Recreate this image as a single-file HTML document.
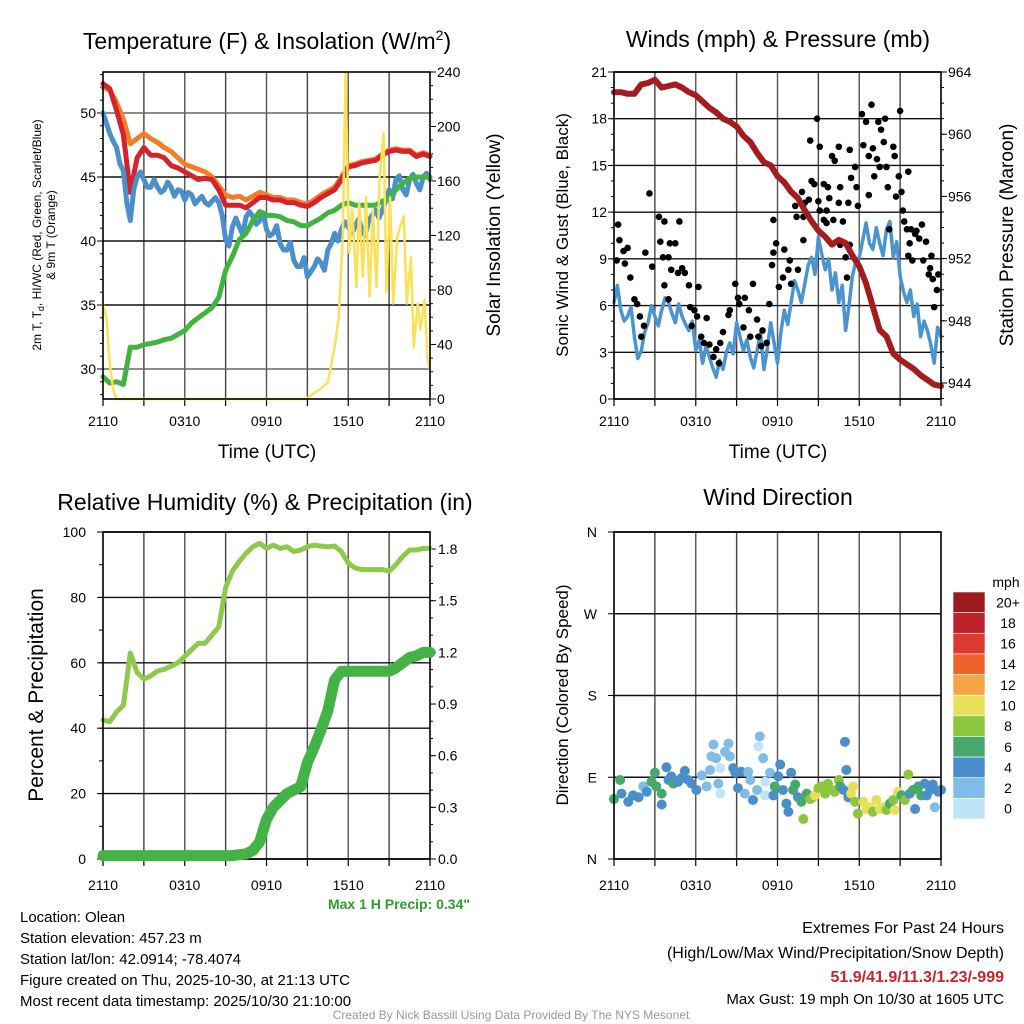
<!DOCTYPE html>
<html><head><meta charset="utf-8">
<style>
html,body{margin:0;padding:0;background:#fff;}
svg{display:block;font-family:"Liberation Sans",Arial,sans-serif;}
</style></head>
<body>
<svg id="chart" width="1024" height="1024" viewBox="0 0 1024 1024" xmlns="http://www.w3.org/2000/svg">
<rect width="1024" height="1024" fill="#fff"/>

<text x="267" y="49" font-size="23" text-anchor="middle">Temperature (F) &amp; Insolation (W/m<tspan dy="-9" font-size="14">2</tspan><tspan dy="9">)</tspan></text>
<text x="778" y="47" font-size="23" text-anchor="middle">Winds (mph) &amp; Pressure (mb)</text>
<text x="265" y="510" font-size="23" text-anchor="middle">Relative Humidity (%) &amp; Precipitation (in)</text>
<text x="778" y="505" font-size="23" text-anchor="middle">Wind Direction</text>

<text transform="translate(41,235) rotate(-90)" font-size="12" text-anchor="middle">2m T, T<tspan dy="3" font-size="9">d</tspan><tspan dy="-3">, HI/WC (Red, Green, Scarlet/Blue)</tspan></text>
<text transform="translate(55,235) rotate(-90)" font-size="12" text-anchor="middle">&amp; 9m T (Orange)</text>
<text transform="translate(500,235) rotate(-90)" font-size="19" text-anchor="middle">Solar Insolation (Yellow)</text>
<text x="267" y="458" font-size="19" text-anchor="middle">Time (UTC)</text>
<text transform="translate(568,235) rotate(-90)" font-size="17" text-anchor="middle">Sonic Wind &amp; Gust (Blue, Black)</text>
<text transform="translate(1013,235) rotate(-90)" font-size="19" text-anchor="middle">Station Pressure (Maroon)</text>
<text x="778" y="458" font-size="19" text-anchor="middle">Time (UTC)</text>
<text transform="translate(43,695) rotate(-90)" font-size="21" text-anchor="middle">Percent &amp; Precipitation</text>
<text transform="translate(568,695) rotate(-90)" font-size="17" text-anchor="middle">Direction (Colored By Speed)</text>

<g id="layer"></g>

<text x="1006" y="587" font-size="14" text-anchor="middle">mph</text>

<text x="470" y="909" font-size="14" font-weight="bold" fill="#2ca02c" text-anchor="end">Max 1 H Precip: 0.34"</text>
<g font-size="15">
<text x="20" y="922">Location: Olean</text>
<text x="20" y="943">Station elevation: 457.23 m</text>
<text x="20" y="964">Station lat/lon: 42.0914; -78.4074</text>
<text x="20" y="985">Figure created on Thu, 2025-10-30, at 21:13 UTC</text>
<text x="20" y="1006">Most recent data timestamp: 2025/10/30 21:10:00</text>
</g>
<g text-anchor="end">
<text x="1004" y="933" font-size="16">Extremes For Past 24 Hours</text>
<text x="1004" y="958" font-size="16">(High/Low/Max Wind/Precipitation/Snow Depth)</text>
<text x="1004" y="982" font-size="16" font-weight="bold" fill="#cc2229">51.9/41.9/11.3/1.23/-999</text>
<text x="1004" y="1004" font-size="15">Max Gust: 19 mph On 10/30 at 1605 UTC</text>
</g>
<text x="511" y="1019" font-size="12" fill="#999" text-anchor="middle">Created By Nick Bassill Using Data Provided By The NYS Mesonet</text>
</svg>

<script>
// ---------- DATA ----------
const hours = [0,0.5,1,1.5,2,2.5,3,3.5,4,4.5,5,5.5,6,6.5,7,7.5,8,8.5,9,9.5,10,10.5,11,11.5,12,12.5,13,13.5,14,14.5,15,15.5,16,16.5,17,17.5,18,18.5,19,19.5,20,20.5,21,21.5,22,22.5,23,23.5,24];
const xTickLabels = ['2110','0310','0910','1510','2110'];
const tempTicks = [30,35,40,45,50];
const solarTicks = [0,40,80,120,160,200,240];
const windTicks = [0,3,6,9,12,15,18,21];
const presTicks = [944,948,952,956,960,964];
const rhTicks = [0,20,40,60,80,100];
const precipTicks = [0.0,0.3,0.6,0.9,1.2,1.5,1.8];
const dirTicks = [0,90,180,270,360];
const dirLabels = ['N','E','S','W','N'];

const tempRed = [52.3,51.9,50.2,48.3,43.8,46.5,47.3,46.7,46.7,46.5,45.9,45.7,45.4,45.1,44.8,44.9,44.8,44.0,42.8,42.8,42.8,42.6,43.0,43.4,43.4,43.2,43.2,43.0,43.0,42.8,42.7,43.0,43.4,43.7,44.0,44.8,45.8,45.9,46.1,46.2,46.3,46.7,47.0,47.1,47.0,47.0,46.6,46.8,46.6];
const temp9m = [52.0,51.8,50.8,49.5,47.6,48.0,48.4,48.0,47.7,47.3,47.0,46.5,46.0,45.8,45.6,45.4,45.0,44.3,43.6,43.4,43.5,43.2,43.5,43.8,43.6,43.4,43.4,43.2,43.2,43.0,42.9,43.2,43.6,43.9,44.2,45.0,45.9,46.0,46.2,46.3,46.4,46.8,47.1,47.2,47.1,47.1,46.7,46.9,46.7];
const windChill = [50.0,48.4,47.3,45.5,41.6,45.0,44.8,44.2,44.2,44.0,44.2,44.0,43.2,43.6,43.2,43.0,43.1,43.0,40.1,41.1,41.1,41.9,41.9,41.6,40.9,40.6,39.8,39.3,38.5,38.0,37.2,38.0,38.3,39.3,40.6,40.9,41.1,41.1,40.9,41.6,42.4,42.4,44.0,44.8,44.0,44.8,44.5,45.0,44.8];
const windChillMid = [49.2,47.8,46.0,43.0,44.0,45.4,44.2,44.8,43.8,44.6,43.5,43.9,43.8,42.9,43.5,42.8,43.4,42.0,39.6,41.8,40.5,42.3,41.3,42.2,40.4,41.2,39.3,39.9,38.0,38.7,37.6,38.6,37.7,39.8,40.0,41.5,40.6,41.7,40.4,42.0,41.8,43.1,43.3,45.1,43.6,45.2,44.0,45.3];
const dewpoint = [29.4,28.9,29.0,28.8,31.7,31.7,31.9,32.0,32.1,32.3,32.4,32.7,33.0,33.6,34.0,34.4,34.8,35.6,37.7,38.8,40.1,40.6,41.6,42.3,42.0,42.0,41.9,41.6,41.5,41.2,41.2,41.5,41.8,42.2,42.4,42.8,43.0,42.8,42.8,42.8,42.8,43.1,43.4,44.0,44.5,44.9,45.0,45.0,45.0];
const solarHours = [0,0.25,0.5,0.75,1,14.9,15.3,15.9,16.5,17.0,17.3,17.6,17.8,18.07,18.3,18.6,18.8,19.07,19.3,19.56,19.8,20.07,20.3,20.6,20.8,21.07,21.3,21.6,21.8,22.07,22.3,22.6,22.8,23.1,23.3,23.6,23.8,24];
const solar = [69,60,26,7,0,0,3,7,12,38,60,119,240,107,139,82,144,90,148,75,139,82,163,195,78,148,70,119,126,134,70,104,38,70,51,73,31,21];

const sonicWind = [6.2,5.7,5.3,4.0,3.1,4.9,5.3,5.7,6.2,4.9,5.3,4.4,3.1,2.3,2.7,1.4,1.9,3.6,4.9,3.1,2.7,3.1,1.9,4.9,2.3,5.7,6.2,7.0,7.4,9.1,10.4,8.3,7.0,6.2,4.4,7.9,9.1,11.3,9.6,10.0,10.9,9.1,7.9,6.2,5.3,4.0,4.4,2.3,4.0];
const sonicWindMid = [7.3,5.0,5.9,2.6,4.3,6.0,4.7,6.5,5.5,6.1,4.8,5.0,3.8,3.4,2.0,2.5,3.0,2.9,4.0,3.8,2.0,4.2,3.2,3.6,4.3,4.8,7.6,6.2,8.6,8.0,9.3,9.0,8.1,7.3,6.0,8.8,10.2,10.0,11.0,9.2,11.4,10.1,6.9,7.0,6.1,5.0,3.5,4.6];
const pressure = [962.7,962.7,962.6,962.6,963.2,963.3,963.5,963.0,963.1,963.2,963.0,962.7,962.5,962.1,961.7,961.4,961.0,960.8,960.5,959.9,959.5,958.8,958.2,958.0,957.3,956.9,956.3,955.9,955.1,954.4,953.8,953.4,952.9,953.2,953.0,952.2,951.5,950.4,948.9,947.4,947.0,945.9,945.5,945.2,944.9,944.5,944.2,943.9,943.8];
const gustHours = [0.2,0.3,0.4,0.7,0.8,1.0,1.2,1.5,1.7,1.9,2.2,2.0,2.6,2.3,2.8,3.3,3.4,3.6,3.7,4.0,4.1,4.5,4.8,4.7,4.2,5.0,5.2,5.5,3.7,4.0,5.6,5.9,6.2,6.1,5.7,6.4,6.8,6.6,7.0,7.3,7.5,7.8,7.7,8.0,8.4,8.5,8.9,9.1,9.2,9.6,9.9,9.5,10.0,10.2,10.5,10.6,10.9,10.8,11.2,11.4,11.7,11.6,11.7,11.9,12.1,12.4,12.5,12.8,12.9,13.0,13.3,13.4,13.5,13.8,13.9,14.3,14.4,14.5,14.7,14.9,15.1,15.4,15.6,15.7,15.8,16.0,16.1,16.2,16.5,16.5,16.6,16.8,17.2,17.3,17.4,17.7,17.8,17.9,18.2,18.3,18.5,18.7,18.7,18.9,19.0,19.1,19.3,19.4,19.6,19.5,19.8,19.9,20.0,20.1,20.2,20.5,20.6,20.7,20.9,21.0,21.1,21.2,21.3,21.5,21.6,21.6,21.8,21.9,22.1,22.2,22.4,22.6,22.7,22.9,23.1,23.3,23.4,23.2,23.5,23.8,23.7,21.7,17.3,17.0,16.6,17.1,15.6,15.4,15.1,15.0,14.0,13.9];
const gusts = [8.9,11.2,10.2,9.5,8.7,9.7,7.8,6.4,6.1,5.3,4.7,4.0,13.2,9.4,8.5,11.7,10.1,9.1,11.4,9.1,10.0,10.0,11.4,8.1,8.3,8.4,8.1,7.3,7.3,6.4,5.9,5.7,7.2,5.3,4.7,4.0,5.2,3.6,3.5,2.7,3.2,3.6,2.3,4.3,5.4,5.7,7.4,6.5,6.1,6.5,5.7,4.6,4.0,7.4,5.1,4.0,4.4,3.4,3.6,6.1,11.5,8.6,9.4,10.0,7.2,7.8,9.6,8.3,8.9,7.4,12.4,11.7,8.3,13.3,11.7,12.8,16.6,14.0,13.8,18.0,16.2,13.8,12.1,13.6,12.9,15.6,11.5,15.3,16.2,12.6,13.6,11.4,12.6,16.0,14.2,14.9,13.6,12.4,18.3,16.3,17.8,15.6,13.1,18.9,16.1,14.3,15.4,17.8,17.3,14.9,16.5,18.0,14.9,13.6,10.9,16.2,15.6,13.0,14.3,18.5,13.3,12.1,11.4,10.9,14.6,9.2,10.9,8.9,10.6,10.8,10.3,11.2,8.9,10.1,8.0,9.2,7.7,8.4,5.9,8.0,7.0,10.0,9.9,9.1,9.9,7.8,11.3,11.5,12.1,12.7,12.6,10.2];

const relHum = [42.5,42,45,47,63,57,55,56,57.5,58,59,60,62,64,66,66,68.5,71,83,88,91,93.5,95.5,96.5,95,96,95,95.5,94,94.5,95.5,96,95.7,95.5,95.7,94,90.5,89,88.5,88.5,88.5,88.5,88,90,92.5,94.5,94.5,95,95];
const precip = [0.02,0.02,0.02,0.02,0.02,0.02,0.02,0.02,0.02,0.02,0.02,0.02,0.02,0.02,0.02,0.02,0.02,0.02,0.02,0.02,0.025,0.03,0.05,0.10,0.23,0.30,0.34,0.38,0.40,0.42,0.56,0.65,0.75,0.86,1.04,1.09,1.09,1.09,1.09,1.09,1.09,1.09,1.09,1.11,1.14,1.17,1.18,1.20,1.20];

const dirHours = [0,0.45,0.55,1.05,1.4,1.8,2.15,2.4,2.75,3.0,3.1,3.5,3.5,3.85,4.0,4.2,4.35,4.7,4.95,5.2,5.45,5.7,6.05,6.45,6.8,7.05,7.15,7.3,7.5,7.8,7.65,7.8,8.15,8.4,8.5,8.75,8.9,9.1,9.35,9.6,9.85,10.0,10.2,10.5,10.7,10.6,10.95,11.1,11.1,11.45,11.7,11.8,12.05,12.2,12.4,12.65,12.8,13.0,13.15,13.3,13.5,13.75,13.9,14.15,14.4,14.6,14.75,15.0,15.25,15.5,15.7,16.0,16.2,16.5,16.6,16.85,16.95,17.05,17.2,17.4,17.55,17.7,17.9,18.3,18.55,18.8,19.0,19.25,19.5,19.75,20.0,20.25,20.5,20.6,20.85,21.1,21.35,21.6,21.7,21.95,22.1,22.35,22.55,22.8,22.95,23.2,23.4,23.55,23.8,24.0];
const directions = [66,87,72,63,70,68,80,74,85,95,80,72,60,101,87,91,83,85,89,97,87,83,76,92,80,98,113,126,111,100,83,72,118,127,113,100,95,78,96,72,96,87,65,76,135,124,111,70,85,95,70,80,91,104,76,61,52,95,76,82,68,63,44,72,66,68,70,78,80,72,83,76,74,87,80,76,129,98,68,72,80,63,50,63,55,57,52,65,55,57,54,61,65,54,74,70,65,93,72,76,55,80,70,83,70,76,82,57,74,76];
const dirSpeeds = [7,7,5,5,5,5,3,5,7,7,7,7,5,5,5,5,7,5,5,5,5,5,5,3,3,3,3,3,3,1,3,1,3,3,3,5,5,5,5,3,3,3,5,3,3,1,3,1,1,3,5,7,5,5,5,5,5,5,7,7,5,7,9,7,9,9,11,9,9,9,9,9,9,9,7,5,5,5,5,11,11,9,9,11,11,11,9,11,11,11,9,7,9,11,11,7,9,9,5,7,5,7,7,5,5,5,5,3,5,5];
const speedBinLabels = ['20+','18','16','14','12','10','8','6','4','2','0'];
const speedBinColors = ['#9b1b1e','#bd2228','#dc3a2e','#f0622b','#f7a444','#e6df58','#8cc63f','#46a86b','#4a8fcb','#80bce8','#bfe4f8'];

// ---------- HELPERS ----------
const NS='http://www.w3.org/2000/svg';
const layer=document.getElementById('layer');
function mk(tag, attrs, parent){const e=document.createElementNS(NS,tag);for(const k in attrs)e.setAttribute(k,attrs[k]);(parent||layer).appendChild(e);return e;}
const PW=327;
function xAt(x0,h){return x0+h*PW/24;}
function interleave(a,mid){const out=[];for(let i=0;i<a.length;i++){out.push(a[i]);if(i<mid.length)out.push(mid[i]);}return out;}
function halfHours(n){const out=[];for(let i=0;i<n;i++)out.push(i*24/(n-1));return out;}

function panel(name,x0,y0,labelOffset){
  const g=mk('g',{});
  
  
  for(let h=3;h<24;h+=3){
    const l=mk('line',{x1:xAt(x0,h),x2:xAt(x0,h),y1:y0,y2:y0+PW,stroke:(h%6===0)?'#555':'#444','stroke-width':1.4},g);
    
    
  }
  for(let i=0;i<xTickLabels.length;i++){
    const x=xAt(x0,i*6);
    const tx=mk('text',{x:x,y:y0+PW+labelOffset,'font-size':14,'text-anchor':'middle'},g);
    tx.textContent=xTickLabels[i];
    
    
  }
  for(let h=0;h<=24;h+=3){
    const x=xAt(x0,h);
    const t=mk('line',{x1:x,x2:x,y1:y0+PW,y2:y0+PW+7,stroke:'#000','stroke-width':1.2},g);
    
    
  }
  return g;
}
function hgrid(g,x0,y,dark){
  const l=mk('line',{x1:x0,x2:x0+PW,y1:y,y2:y,stroke:dark?'#111':'#666','stroke-width':1.4},g);
  
  
}
function yLabel(g,x,y,txt,anchor){
  const t=mk('text',{x:x,y:y+5,'font-size':14,'text-anchor':anchor},g);
  t.textContent=txt;
  
  
}
function tick(g,x,y,len){
  const t=mk('line',{x1:x,x2:x+len,y1:y,y2:y,stroke:'#000','stroke-width':1},g);
  
  
}
function frame(g,x0,y0){
  const r=mk('rect',{x:x0,y:y0,width:PW,height:PW,fill:'none',stroke:'#000','stroke-width':1.6},g);
  
  
}
function polyline(g,xs,ys,color,w,name){
  let d='';
  for(let i=0;i<xs.length;i++){d+=(i?'L':'M')+xs[i].toFixed(1)+','+ys[i].toFixed(1);}
  const p=mk('path',{d:d,fill:'none',stroke:color,'stroke-width':w,'stroke-linejoin':'round','stroke-linecap':'round'},g);
  
  
  return p;
}

// ---------- PANEL 1 ----------
(function(){
  const x0=103,y0=72;
  const yT=t=>369-(t-30)*12.8;
  const yS=s=>399-s*PW/240;
  const g=panel('temperature-panel',x0,y0,27);
  tempTicks.forEach(t=>{hgrid(g,x0,yT(t),t!==30&&t!==50);yLabel(g,96,yT(t),String(t),'end');tick(g,x0,yT(t),-6);});
  for(let t=28;t<=53;t++){tick(g,x0,yT(t),-3);}
  solarTicks.forEach(s=>{yLabel(g,437,yS(s),String(s),'start');tick(g,x0+PW,yS(s),6);});
  for(let s=0;s<=240;s+=10){tick(g,x0+PW,yS(s),3);}
  const xs=hours.map(h=>xAt(x0,h));
  polyline(g,xs,temp9m.map(yT),'#f47c26',5,'temp-9m-line');
  polyline(g,xs,tempRed.map(yT),'#d6222a',5,'temp-2m-line');
  const wc=interleave(windChill,windChillMid);
  polyline(g,halfHours(wc.length).map(h=>xAt(x0,h)),wc.map(yT),'#4b8fcb',5,'heat-index-windchill-line');
  polyline(g,xs,dewpoint.map(yT),'#41b33f',5,'dewpoint-line');
  polyline(g,solarHours.map(h=>xAt(x0,h)),solar.map(yS),'#fbe154',2.5,'solar-insolation-line');
  frame(g,x0,y0);
})();

// ---------- PANEL 2 ----------
(function(){
  const x0=614,y0=72;
  const yW=w=>399-w*PW/21;
  const yP=p=>383-(p-944)*15.55;
  const g=panel('winds-panel',x0,y0,27);
  windTicks.forEach(w=>{hgrid(g,x0,yW(w),true);yLabel(g,607,yW(w),String(w),'end');tick(g,x0,yW(w),-6);});
  for(let w=0;w<=21;w++){tick(g,x0,yW(w),-3);}
  presTicks.forEach(p=>{yLabel(g,948,yP(p),String(p),'start');tick(g,x0+PW,yP(p),6);});
  for(let p=943;p<=964;p++){tick(g,x0+PW,yP(p),3);}
  const sw=interleave(sonicWind,sonicWindMid);
  polyline(g,halfHours(sw.length).map(h=>xAt(x0,h)),sw.map(yW),'#4b94d0',3.5,'sonic-wind-line');
  for(let i=0;i<gusts.length;i++){
    const c=mk('circle',{cx:xAt(x0,gustHours[i]),cy:yW(gusts[i]),r:3.3,fill:'#000'},g);
    
    
  }
  polyline(g,hours.map(h=>xAt(x0,h)),pressure.map(yP),'#a31c1e',6,'pressure-line');
  frame(g,x0,y0);
})();

// ---------- PANEL 3 ----------
(function(){
  const x0=103,y0=532;
  const yR=r=>859-r*3.27;
  const yPr=p=>859-p*172.2;
  const g=panel('humidity-panel',x0,y0,31);
  rhTicks.forEach(r=>{hgrid(g,x0,yR(r),true);yLabel(g,86,yR(r),String(r),'end');tick(g,x0,yR(r),-6);});
  for(let r=0;r<=100;r+=10){tick(g,x0,yR(r),-4);}
  precipTicks.forEach(p=>{yLabel(g,438,yPr(p),p.toFixed(1),'start');tick(g,x0+PW,yPr(p),6);});
  for(let p=0;p<=1.9;p+=0.1){tick(g,x0+PW,yPr(p),3);}
  const xs=hours.map(h=>xAt(x0,h));
  polyline(g,xs,relHum.map(yR),'#8dc94b',5,'relative-humidity-line');
  frame(g,x0,y0);
  polyline(g,xs,precip.map(yPr),'#43b346',11,'precipitation-line');
})();

// ---------- PANEL 4 ----------
(function(){
  const x0=614,y0=532;
  const yD=d=>859-d*PW/360;
  const g=panel('wind-direction-panel',x0,y0,31);
  dirTicks.forEach((d,i)=>{hgrid(g,x0,yD(d),true);yLabel(g,597,yD(d),dirLabels[i],'end');tick(g,x0,yD(d),-6);});
  for(let i=0;i<directions.length;i++){
    const bin=Math.min(10,Math.floor(dirSpeeds[i]/2));
    const c=mk('circle',{cx:xAt(x0,dirHours[i]),cy:yD(directions[i]),r:5,fill:speedBinColors[10-bin]},g);
    
    
  }
  frame(g,x0,y0);
  const bh=227/speedBinLabels.length;
  for(let i=0;i<speedBinLabels.length;i++){
    const r=mk('rect',{x:953,y:592+i*bh,width:32,height:bh,fill:speedBinColors[i],stroke:'#fff','stroke-width':0.6});
    
    
    const t=mk('text',{x:1008,y:592+i*bh+bh/2+5,'font-size':14,'text-anchor':'middle'});
    t.textContent=speedBinLabels[i];
    
    
  }
})();
</script>
</body></html>
